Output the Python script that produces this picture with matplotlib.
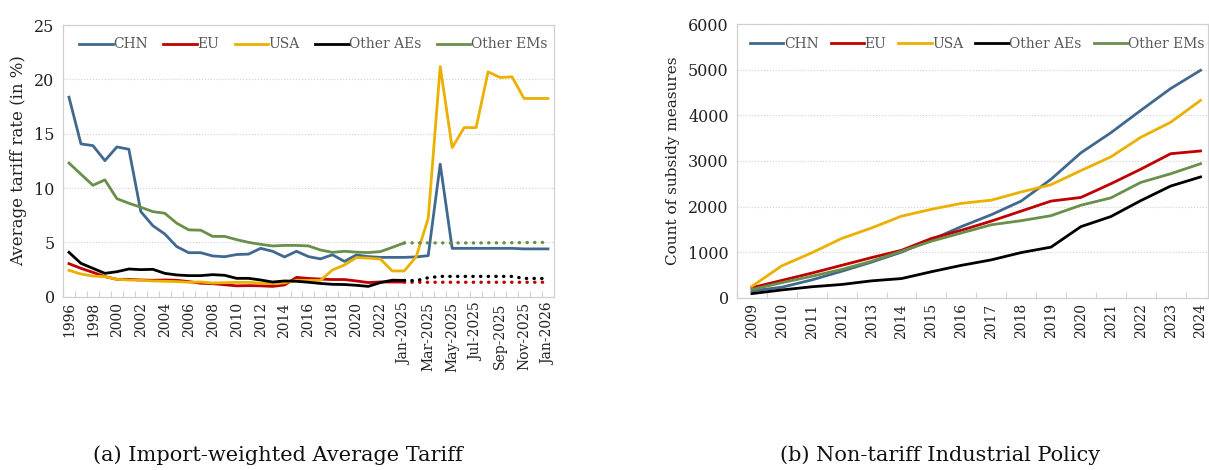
import matplotlib
matplotlib.use('Agg')
import matplotlib.pyplot as plt
import numpy as np

plt.rcParams['font.family'] = ['DejaVu Serif']

# ---- left panel: import-weighted average tariff (in %) ----
years_a = [str(y) for y in range(1996, 2024)]
months_a = ['Jan-2025', 'Feb-2025', 'Mar-2025', 'Apr-2025', 'May-2025', 'Jun-2025',
            'Jul-2025', 'Aug-2025', 'Sep-2025', 'Oct-2025', 'Nov-2025', 'Dec-2025', 'Jan-2026']
cats_a = years_a + months_a

chn_a = [18.36, 14.06, 13.9, 12.52, 13.78, 13.57, 7.83, 6.54, 5.77, 4.61, 4.05, 4.05,
         3.75, 3.68, 3.88, 3.92, 4.45, 4.18, 3.66, 4.18, 3.69, 3.48, 3.86, 3.25, 3.84,
         3.69, 3.62, 3.62, 3.62, 3.66, 3.78, 12.2, 4.45, 4.45, 4.45, 4.45, 4.45, 4.45,
         4.4, 4.4, 4.4]
usa_a = [2.43, 2.09, 1.9, 1.85, 1.6, 1.54, 1.51, 1.45, 1.42, 1.39, 1.33, 1.36, 1.26,
         1.29, 1.32, 1.32, 1.25, 1.2, 1.28, 1.5, 1.5, 1.5, 2.46, 2.92, 3.6, 3.55, 3.47,
         2.37, 2.37, 3.69, 7.22, 21.18, 13.72, 15.56, 15.56, 20.69, 20.17, 20.23,
         18.24, 18.24, 18.24]
# solid part (1996..Jan-2025)
eu_a = [3.04, 2.61, 2.24, 1.85, 1.6, 1.6, 1.54, 1.51, 1.54, 1.51, 1.39, 1.24, 1.2,
        1.1, 1.0, 1.02, 1.0, 0.95, 1.08, 1.78, 1.68, 1.62, 1.58, 1.58, 1.45, 1.3, 1.36,
        1.35, 1.35]
aes_a = [4.08, 3.07, 2.61, 2.15, 2.3, 2.55, 2.49, 2.52, 2.15, 2.0, 1.94, 1.94, 2.03,
         1.97, 1.69, 1.69, 1.54, 1.35, 1.45, 1.42, 1.33, 1.22, 1.14, 1.12, 1.05, 0.95,
         1.3, 1.52, 1.5]
ems_a = [12.3, 11.27, 10.25, 10.75, 9.02, 8.6, 8.23, 7.83, 7.68, 6.76, 6.15, 6.12,
         5.55, 5.55, 5.25, 5.0, 4.82, 4.67, 4.72, 4.72, 4.67, 4.3, 4.08, 4.18, 4.1,
         4.06, 4.15, 4.54, 4.95]
# dotted extension (Jan-2025..Jan-2026)
eu_ext = [1.35, 1.33, 1.33, 1.33, 1.33, 1.33, 1.33, 1.33, 1.33, 1.33, 1.33, 1.33, 1.33]
aes_ext = [1.5, 1.48, 1.75, 1.87, 1.87, 1.87, 1.87, 1.87, 1.87, 1.87, 1.68, 1.68, 1.68]
ems_ext = [4.95, 4.95, 4.95, 4.95, 4.95, 4.95, 4.95, 4.96, 4.96, 4.97, 4.98, 4.99, 5.0]

# ---- right panel: count of subsidy measures ----
years_b = [str(y) for y in range(2009, 2025)]
chn_b = [150, 230, 390, 580, 780, 1000, 1270, 1560, 1820, 2120, 2600, 3180, 3620,
         4110, 4590, 4990]
eu_b = [220, 380, 540, 710, 880, 1040, 1300, 1480, 1680, 1900, 2120, 2200, 2500,
        2820, 3160, 3220]
usa_b = [250, 700, 985, 1300, 1530, 1790, 1940, 2070, 2140, 2320, 2480, 2790, 3090,
         3520, 3850, 4330]
aes_b = [90, 170, 240, 290, 370, 420, 570, 710, 830, 990, 1110, 1560, 1780, 2130,
         2450, 2650]
ems_b = [180, 330, 470, 620, 800, 1020, 1240, 1420, 1600, 1690, 1800, 2030, 2190,
         2530, 2720, 2940]

names = ['CHN', 'EU', 'USA', 'Other AEs', 'Other EMs']
colors = ['#41698f', '#c00000', '#ebb000', '#000000', '#6a8f4a']
lw = 2.0
grid_c = '#d0d0d0'
text_c = '#222222'

fig = plt.figure(figsize=(12.09, 4.70), dpi=100)
ax1 = fig.add_axes([0.0521, 0.3687, 0.4061, 0.5781])
ax2 = fig.add_axes([0.6096, 0.3666, 0.3896, 0.5817])


def style_axis(ax, n):
    for s in ax.spines.values():
        s.set_color(grid_c)
        s.set_linewidth(0.9)
    ax.grid(axis='y', color=grid_c, linestyle=':', linewidth=0.8)
    ax.set_axisbelow(True)
    ax.set_xlim(-0.5, n - 0.5)
    ax.set_xticks(np.arange(n) - 0.5, minor=True)
    ax.tick_params(axis='x', which='minor', direction='in', length=4, color=grid_c, width=0.8)
    ax.tick_params(axis='x', which='major', length=0, labelrotation=90, pad=4,
                   labelsize=10, labelcolor=text_c)
    ax.tick_params(axis='y', length=0, labelsize=11.5, labelcolor=text_c, pad=6)


def add_legend(ax, anchor, loc, spacing):
    leg = ax.legend(loc=loc, ncol=5, frameon=False, fontsize=10,
                    handlelength=2.4, handletextpad=0.05, columnspacing=spacing,
                    bbox_to_anchor=anchor, borderaxespad=0.2)
    for t in leg.get_texts():
        t.set_color('#595959')


# left
n_a = len(cats_a)
xa = np.arange(n_a)
k = len(years_a)
ax1.plot(xa, chn_a, color=colors[0], lw=lw, label=names[0])
ax1.plot(xa[:k + 1], eu_a, color=colors[1], lw=lw, label=names[1])
ax1.plot(xa, usa_a, color=colors[2], lw=lw, label=names[2])
ax1.plot(xa[:k + 1], aes_a, color=colors[3], lw=lw, label=names[3])
ax1.plot(xa[:k + 1], ems_a, color=colors[4], lw=lw, label=names[4])
dots = dict(lw=lw + 0.4, linestyle=(0, (0.1, 2.2)), dash_capstyle='round')
ax1.plot(xa[k:], eu_ext, color=colors[1], **dots)
ax1.plot(xa[k:], aes_ext, color=colors[3], **dots)
ax1.plot(xa[k:], ems_ext, color=colors[4], **dots)
style_axis(ax1, n_a)
ax1.set_ylim(0, 25)
ax1.set_yticks([0, 5, 10, 15, 20, 25])
ax1.set_xticks(xa[::2])
ax1.set_xticklabels(cats_a[::2])
ax1.set_ylabel('Average tariff rate (in %)', fontsize=12, color=text_c, labelpad=5)
add_legend(ax1, (0.51, 0.985), 'upper center', 1.1)

# right
n_b = len(years_b)
xb = np.arange(n_b)
for vals, c, nm in zip([chn_b, eu_b, usa_b, aes_b, ems_b], colors, names):
    ax2.plot(xb, vals, color=c, lw=lw, label=nm)
style_axis(ax2, n_b)
ax2.set_xlim(-0.5, 15.25)
ax2.set_ylim(0, 6000)
ax2.set_yticks(range(0, 6001, 1000))
ax2.set_xticks(xb)
ax2.set_xticklabels(years_b)
ax2.set_ylabel('Count of subsidy measures', fontsize=11, color=text_c, labelpad=6)
add_legend(ax2, (0.01, 0.985), 'upper left', 0.85)

fig.text(0.23, 0.01, '(a) Import-weighted Average Tariff', ha='center', va='bottom',
         fontsize=15, color='#111111')
fig.text(0.778, 0.01, '(b) Non-tariff Industrial Policy', ha='center', va='bottom',
         fontsize=15, color='#111111')

fig.savefig('out.png', dpi=100)
